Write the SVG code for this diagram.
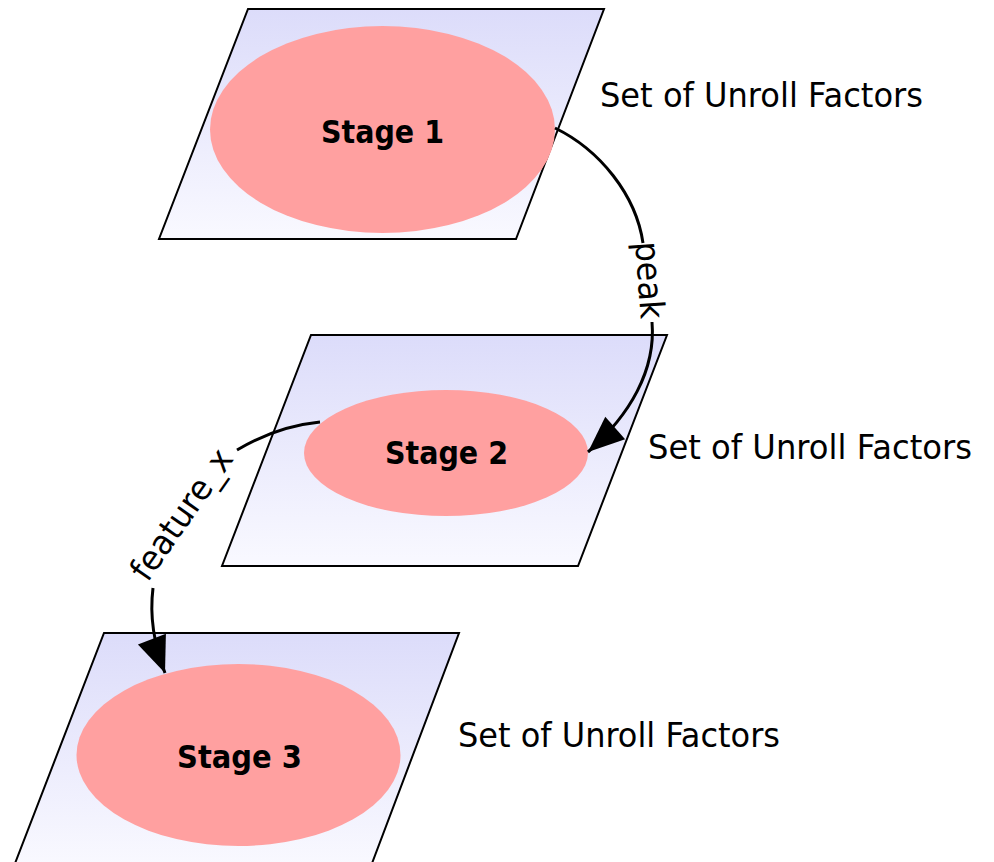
<svg xmlns="http://www.w3.org/2000/svg" width="994" height="862" viewBox="0 0 994 862">
  <defs>
    <linearGradient id="planeFill" x1="0" y1="0" x2="0" y2="1">
      <stop offset="0" stop-color="#dcdcfa"/>
      <stop offset="1" stop-color="#f9f9ff"/>
    </linearGradient>
    <marker id="arrow" markerUnits="userSpaceOnUse" markerWidth="40" markerHeight="40" viewBox="-30 -15 32 30" refX="0" refY="0" orient="auto">
      <path d="M0,0 L-29,-12 L-29,12 Z" fill="#000"/>
    </marker>
    <style>
      .plane { fill: url(#planeFill); stroke: #000; stroke-width: 2; }
      .stage { fill: #ffa0a0; stroke: none; }
      .stageText { font-family: "DejaVu Sans", Verdana, sans-serif; font-weight: bold; font-size: 32px; fill: #000; }
      .setText { font-family: "DejaVu Sans", Verdana, sans-serif; font-size: 33px; fill: #000; }
      .edge { fill: none; stroke: #000; stroke-width: 3; }
      .edgeText { font-family: "DejaVu Sans", Verdana, sans-serif; font-size: 34px; fill: #000; }
    </style>
  </defs>

  <g id="stage1">
    <polygon class="plane" points="248,9 604,9 516,239 159,239"/>
    <ellipse class="stage" cx="382.5" cy="129.5" rx="172.5" ry="103.5"/>
    <text class="stageText" x="321" y="143" textLength="123" lengthAdjust="spacingAndGlyphs">Stage 1</text>
    <text class="setText" x="600" y="107" textLength="323" lengthAdjust="spacingAndGlyphs">Set of Unroll Factors</text>
  </g>

  <g id="stage2">
    <polygon class="plane" points="311,335 667,335 578,566 222,566"/>
    <ellipse class="stage" cx="446" cy="453" rx="142" ry="63"/>
    <text class="stageText" x="385" y="464" textLength="123" lengthAdjust="spacingAndGlyphs">Stage 2</text>
    <text class="setText" x="648" y="459" textLength="324" lengthAdjust="spacingAndGlyphs">Set of Unroll Factors</text>
  </g>

  <g id="stage3">
    <polygon class="plane" points="104,633 459,633 371,866 14,866"/>
    <ellipse class="stage" cx="238.5" cy="755" rx="162" ry="91"/>
    <text class="stageText" x="177" y="768" textLength="125" lengthAdjust="spacingAndGlyphs">Stage 3</text>
    <text class="setText" x="458" y="747" textLength="322" lengthAdjust="spacingAndGlyphs">Set of Unroll Factors</text>
  </g>

  <g id="connectors">
    <!-- Stage 1 to Stage 2 -->
    <path class="edge" d="M555,128 C600,150 636,195 643,243"/>
    <path class="edge" d="M652,322 C656,370 630,415 588,452" marker-end="url(#arrow)"/>
    <text class="edgeText" transform="translate(638,281) rotate(86)" text-anchor="middle" textLength="77" lengthAdjust="spacingAndGlyphs">peak</text>
    <!-- Stage 2 to Stage 3 -->
    <path class="edge" d="M320,422 C290,425 262,435 237,450"/>
    <path class="edge" d="M153,588 C150,612 153,642 165,673" marker-end="url(#arrow)"/>
    <text class="edgeText" transform="translate(191,521) rotate(-55)" text-anchor="middle" textLength="152" lengthAdjust="spacingAndGlyphs">feature_x</text>
  </g>
</svg>
